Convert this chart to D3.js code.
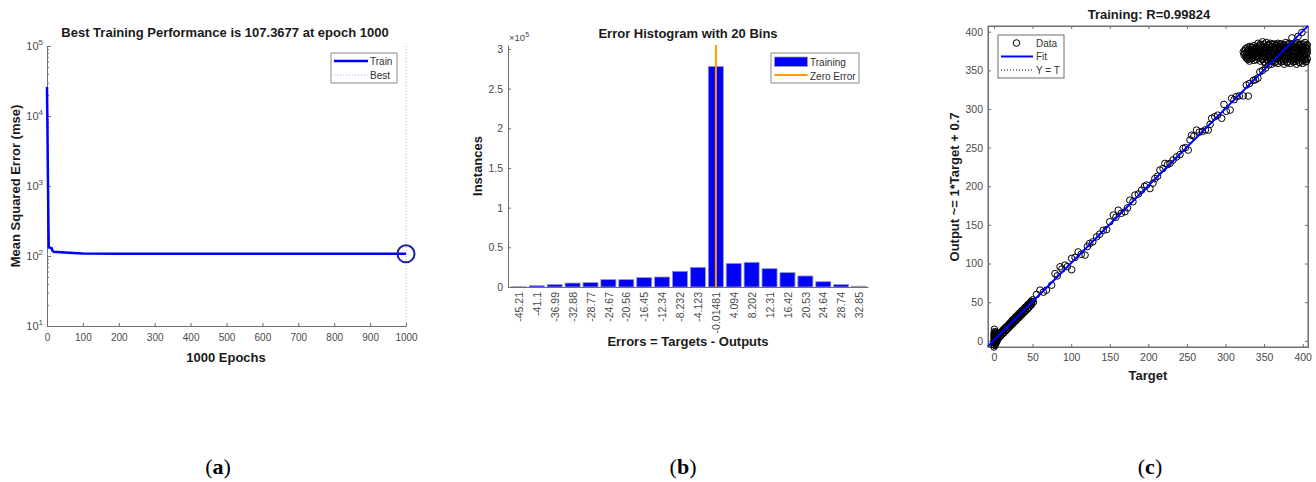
<!DOCTYPE html>
<html>
<head>
<meta charset="utf-8">
<script src="https://cdn.jsdelivr.net/npm/d3@7"></script>
<style>
  body { margin: 0; background: #fff; }
  svg { display: block; font-family: "Liberation Sans", Arial, sans-serif; }
</style>
</head>
<body>
<div id="fig"></div>
<script>
// ---- (a) training performance ----
var perfEpochs = [0, 1, 2, 3, 4, 5, 9, 13, 15, 19, 30, 50, 100, 200, 400, 700, 1000];
var perfMse = [26000, 9000, 2600, 800, 260, 133, 131, 129, 119, 115, 114, 112, 108.4, 107.8, 107.6, 107.45, 107.3677];
var bestEpoch = 1000;
var bestMse = 107.3677;
var perfXTicks = [0, 100, 200, 300, 400, 500, 600, 700, 800, 900, 1000];
var perfYTicks = [10, 100, 1000, 10000, 100000];
var perfYExp = ["1", "2", "3", "4", "5"];

// ---- (b) error histogram ----
var binCenters = [-45.21, -41.1, -36.99, -32.88, -28.77, -24.67, -20.56, -16.45, -12.34, -8.232,
                  -4.123, -0.01481, 4.094, 8.202, 12.31, 16.42, 20.53, 24.64, 28.74, 32.85];
var binLabels = ["-45.21", "-41.1", "-36.99", "-32.88", "-28.77", "-24.67", "-20.56", "-16.45", "-12.34", "-8.232",
                 "-4.123", "-0.01481", "4.094", "8.202", "12.31", "16.42", "20.53", "24.64", "28.74", "32.85"];
var binCounts = [300, 1700, 3000, 5000, 5500, 9300, 9300, 11800, 12600, 19800,
                 24800, 278000, 29800, 31100, 23100, 18100, 13900, 6700, 3000, 1000];
var histYTicks = [0, 50000, 100000, 150000, 200000, 250000, 300000];

// ---- (c) regression ----
var regTicks = [0, 50, 100, 150, 200, 250, 300, 350, 400];
var fitSlope = 1, fitOffset = 0.7;
var regNearZero = [[0,-8],[0,-5],[0,-2],[0,1],[0,4],[0,7],[0,10],[0.5,15],[1,-6],[1,-3],[1,0],[1,3],[1,6],
  [1,9],[1,12],[2,-4],[2,-1],[2,2],[2,5],[2,8],[2,11],[3,-2],[3,1],[3,4],[3,7],[3,10],[4,0],[4,3],
  [4,6],[4,9],[5,2],[5,5],[5,8],[6,4],[6,7],[6,10]];
var regLowBand = [[6,9],[7,5],[8,10],[9,7],[10,12],[11,9],[12,14],[13,11],[14,16],[15,13],[16,18],[17,15],
  [18,19],[19,17],[20,22],[21,19],[22,24],[23,21],[24,27],[25,23],[26,28],[27,25],[28,31],[29,27],
  [30,32],[31,29],[32,35],[33,31],[34,36],[35,33],[36,39],[37,35],[38,40],[39,37],[40,43],[41,39],
  [42,44],[43,41],[44,47],[45,43],[46,48],[47,46],[48,51],[49,48],[50,53],[51,50],
  [5,6],[7,9],[9,11],[11,13],[13,15],[15,17],[17,19],[19,21],[21,23],[23,25],[25,27],[27,29],[29,31],
  [31,33],[33,35],[35,37],[37,39],[39,41],[41,43],[43,45],[45,47],[47,49],[49,51],[8,6],[12,10],
  [16,14],[20,18],[24,22],[28,26],[32,30],[36,34],[40,38],[44,42],[48,46]];
var regAlong = [[55,60],[59.6,65.6],[64,63],[68,65.6],[74.7,72],[79,87],[82,84],[85.5,95.8],[88,93],
  [92,98],[95,96],[100.6,106.6],[100.6,92],[105,108],[109,115],[113,112],[118,111],[121,122],[124,126],
  [128,128],[133,134.6],[137,138],[141.6,143],[146,144],[150,154],[154.6,162.7],[158,160],[161,169],
  [165,165],[169.7,167],[173,172],[176,182],[180,180],[182.6,188.6],[187,190],[191.3,195],[195,200],
  [197.8,201.5],[202,197],[206,204],[208.5,210],[212,213],[215,221],[219,223],[221.5,229.6],[225,228],
  [228,229.6],[232,234],[236.6,238],[241,241],[245,249],[248,250],[251.7,246.8],[254,260],[256,266],
  [259,265],[262.5,272.7],[266,270],[270,271],[274,273],[277.6,272.7],[280,280],[282,288],[286,290],
  [290,292],[295,288],[298,306],[301,297],[306,298.6],[308,313.7],[311,312],[314,316],[318,317],
  [323,317],[327,331],[329.5,316.7],[331,333],[336,337],[339,338],[342,340],[344.5,348],[348,350],
  [352,353],[356,357],[386,392],[394,394],[399,399]];
var regCloud = [[342,385],[348,387],[353,386],[358,385],[363,384],[368,385],[373,384],[378,386],[383,385],
  [388,384],[393,385],[398,384],[403,386],
  [332,381],[337,382],[340,380],[345,382],[350,381],[355,382],[360,381],[365,382],[370,381],[375,382],
  [380,381],[385,382],[390,381],[395,382],[400,381],[405,382],
  [326,378],[330,377],[334,379],[338,378],[343,377],[347,379],[352,378],[357,377],[362,379],[366,378],
  [371,377],[376,379],[381,378],[386,377],[391,379],[396,378],[401,377],[405,379],
  [323,374],[327,373],[331,375],[335,374],[340,373],[344,375],[349,374],[354,373],[359,375],[364,374],
  [369,373],[374,375],[379,374],[384,373],[389,375],[394,374],[399,373],[404,375],
  [324,370],[328,369],[332,371],[336,370],[341,369],[346,371],[351,370],[356,369],[361,371],[366,370],
  [371,369],[376,371],[381,370],[386,369],[391,371],[396,370],[401,369],[405,371],
  [327,366],[331,365],[336,367],[342,366],[347,365],[352,367],[357,366],[362,365],[367,367],[372,366],
  [377,365],[382,367],[387,366],[392,365],[397,367],[402,366],[406,365],
  [331,362],[337,363],[345,362],[350,361],[355,363],[360,362],[365,361],[370,363],[375,362],[380,361],
  [385,363],[390,362],[395,361],[400,363],[405,362],
  [352,359],[360,358],[368,359],[376,358],[384,359],[392,358],[400,359],
  [345,384],[350,384],[356,383],[361,384],[366,383],[371,384],[376,383],[381,384],[386,383],[391,384],
  [396,383],[401,384],[406,383],
  [329,380],[334,380],[339,379],[343,380],[348,380],[353,379],[358,380],[363,380],[368,379],[373,380],
  [378,380],[383,379],[388,380],[393,380],[398,379],[403,380],
  [325,376],[329,375],[333,376],[337,376],[342,375],[346,376],[351,376],[356,375],[361,376],[365,376],
  [370,375],[375,376],[380,376],[385,375],[390,376],[395,376],[400,375],[406,377],
  [325,372],[329,371],[333,372],[338,372],[343,371],[347,372],[352,372],[357,371],[362,372],[367,372],
  [372,371],[377,372],[382,372],[387,371],[392,372],[397,372],[402,371],[406,373],
  [326,368],[330,367],[334,368],[339,368],[344,367],[349,368],[354,368],[359,367],[364,368],[369,368],
  [374,367],[379,368],[384,368],[389,367],[394,368],[399,368],[404,367],
  [329,364],[334,365],[340,364],[348,364],[353,364],[358,364],[363,363],[368,365],[373,364],[378,364],
  [383,365],[388,364],[393,363],[398,365],[403,364],
  [356,361],[364,360],[372,361],[380,360],[388,361],[396,360],[404,361]];

var axisColor = "#6e6e6e";
var tickColor = "#4a4a4a";
var labelColor = "#1a1a1a";

var svg = d3.select("#fig").append("svg").attr("width", 1316).attr("height", 482);

function styleAxis(g, size) {
  g.attr("font-family", "Liberation Sans, Arial, sans-serif").attr("font-size", size);
  g.select(".domain").attr("stroke", axisColor);
  g.selectAll(".tick line").attr("stroke", axisColor);
  g.selectAll(".tick text").attr("fill", tickColor);
  return g;
}

function boldText(x, y, str, rotate) {
  var t = svg.append("text")
    .attr("text-anchor", "middle")
    .attr("font-weight", "bold")
    .attr("font-size", 13)
    .attr("fill", labelColor)
    .text(str);
  if (rotate) t.attr("transform", "translate(" + x + "," + y + ") rotate(-90)");
  else t.attr("x", x).attr("y", y);
  return t;
}

// ================= (a) =================
var xA = d3.scaleLinear().domain([0, 1000]).range([47, 406]);
var yA = d3.scaleLog().domain([10, 100000]).range([326, 46]);

styleAxis(svg.append("g").attr("transform", "translate(0," + yA.range()[0] + ")")
  .call(d3.axisBottom(xA).tickValues(perfXTicks).tickSize(-3).tickSizeOuter(0).tickPadding(8)
    .tickFormat(d3.format("d"))), 10);

var minorA = yA.ticks().filter(function(v) { return perfYTicks.indexOf(v) < 0; });
styleAxis(svg.append("g").attr("transform", "translate(" + xA.range()[0] + ",0)")
  .call(d3.axisLeft(yA).tickValues(minorA).tickSize(-2).tickSizeOuter(0).tickFormat("")), 10);
styleAxis(svg.append("g").attr("transform", "translate(" + xA.range()[0] + ",0)")
  .call(d3.axisLeft(yA).tickValues(perfYTicks).tickSize(-4).tickSizeOuter(0).tickFormat("")), 10);

perfYTicks.forEach(function(v, i) {
  var t = svg.append("text")
    .attr("x", xA.range()[0] - 4).attr("y", yA(v) + 4)
    .attr("text-anchor", "end").attr("font-size", 11).attr("fill", tickColor);
  t.append("tspan").text("10");
  t.append("tspan").attr("dy", -5).attr("font-size", 8).text(perfYExp[i]);
});

// best markers (dotted)
svg.append("line")
  .attr("x1", xA(bestEpoch)).attr("x2", xA(bestEpoch))
  .attr("y1", yA.range()[1]).attr("y2", yA.range()[0])
  .attr("stroke", "#a9a9f0").attr("stroke-width", 1).attr("stroke-dasharray", "1,2");
svg.append("line")
  .attr("x1", xA(0)).attr("x2", xA(bestEpoch))
  .attr("y1", yA(bestMse)).attr("y2", yA(bestMse))
  .attr("stroke", "#a9a9f0").attr("stroke-width", 1).attr("stroke-dasharray", "1,2");

var perfData = perfEpochs.map(function(e, i) { return [e, perfMse[i]]; });
svg.append("path")
  .datum(perfData)
  .attr("fill", "none").attr("stroke", "#0000ff").attr("stroke-width", 2.5)
  .attr("d", d3.line().x(function(d) { return xA(d[0]); }).y(function(d) { return yA(d[1]); }));

svg.append("circle")
  .attr("cx", xA(bestEpoch)).attr("cy", yA(bestMse)).attr("r", 8.5)
  .attr("fill", "none").attr("stroke", "#1c1ca6").attr("stroke-width", 2);

// legend (a)
var legA = svg.append("g");
legA.append("rect").attr("x", 331).attr("y", 53).attr("width", 66).attr("height", 30)
  .attr("fill", "#fff").attr("stroke", "#8c8c8c");
legA.append("line").attr("x1", 334).attr("x2", 368).attr("y1", 61).attr("y2", 61)
  .attr("stroke", "#0000ff").attr("stroke-width", 2.5);
legA.append("line").attr("x1", 334).attr("x2", 368).attr("y1", 75).attr("y2", 75)
  .attr("stroke", "#a9a9f0").attr("stroke-dasharray", "1,2");
legA.append("text").attr("x", 370).attr("y", 65).attr("font-size", 10).attr("fill", "#333").text("Train");
legA.append("text").attr("x", 370).attr("y", 79).attr("font-size", 10).attr("fill", "#333").text("Best");

boldText(225, 37, "Best Training Performance is 107.3677 at epoch 1000");
boldText(226, 362, "1000 Epochs");
boldText(20, 186, "Mean Squared Error  (mse)", true);

// ================= (b) =================
var xB = d3.scaleLinear().domain([-47.7, 34.9]).range([508, 868]);
var yB = d3.scaleLinear().domain([0, 305000]).range([287, 45]);
var stepB = xB(binCenters[1]) - xB(binCenters[0]);
var barW = stepB * 0.84;

svg.append("g").selectAll("rect")
  .data(binCounts)
  .join("rect")
  .attr("x", function(d, i) { return xB(binCenters[i]) - barW / 2; })
  .attr("y", function(d) { return yB(d); })
  .attr("width", barW)
  .attr("height", function(d) { return yB(0) - yB(d); })
  .attr("fill", "#0000ff")
  .attr("stroke", "#9a9ab8").attr("stroke-width", 0.8);

var gxB = styleAxis(svg.append("g").attr("transform", "translate(0," + yB(0) + ")")
  .call(d3.axisBottom(xB).tickValues(binCenters).tickSize(0).tickSizeOuter(0)
    .tickFormat(function(d, i) { return binLabels[i]; })), 10.5);
gxB.selectAll(".tick text")
  .attr("transform", "rotate(-90)")
  .attr("text-anchor", "end")
  .attr("x", -5).attr("y", 0).attr("dy", "0.35em");

styleAxis(svg.append("g").attr("transform", "translate(" + xB.range()[0] + ",0)")
  .call(d3.axisLeft(yB).tickValues(histYTicks).tickSize(-3).tickSizeOuter(0).tickPadding(5)
    .tickFormat(function(d) { return d / 100000; })), 10.5);

var expB = svg.append("text").attr("x", 509).attr("y", 41).attr("font-size", 9.5).attr("fill", tickColor);
expB.append("tspan").text("\u00d710");
expB.append("tspan").attr("dy", -4).attr("font-size", 7).text("5");

svg.append("line")
  .attr("x1", xB(0)).attr("x2", xB(0)).attr("y1", yB.range()[1]).attr("y2", yB(0))
  .attr("stroke", "#ff9900").attr("stroke-width", 2);

var legB = svg.append("g");
legB.append("rect").attr("x", 771).attr("y", 53).attr("width", 88).attr("height", 30)
  .attr("fill", "#fff").attr("stroke", "#8c8c8c");
legB.append("rect").attr("x", 774.5).attr("y", 57).attr("width", 33).attr("height", 9.5)
  .attr("fill", "#0000ff").attr("stroke", "#9a9ab8").attr("stroke-width", 0.8);
legB.append("line").attr("x1", 774.5).attr("x2", 807.5).attr("y1", 75).attr("y2", 75)
  .attr("stroke", "#ff9900").attr("stroke-width", 2);
legB.append("text").attr("x", 810).attr("y", 66).attr("font-size", 10).attr("fill", "#333").text("Training");
legB.append("text").attr("x", 810).attr("y", 80).attr("font-size", 10).attr("fill", "#333").text("Zero Error");

boldText(688, 38, "Error Histogram with 20 Bins");
boldText(688, 346, "Errors = Targets - Outputs");
boldText(482, 166, "Instances", true);

// ================= (c) =================
var xC = d3.scaleLinear().domain([-7.8, 406.9]).range([988, 1308]);
var yC = d3.scaleLinear().domain([-8, 407.4]).range([347, 26]);

svg.append("rect")
  .attr("x", xC.range()[0]).attr("y", yC.range()[1])
  .attr("width", xC.range()[1] - xC.range()[0]).attr("height", yC.range()[0] - yC.range()[1])
  .attr("fill", "none").attr("stroke", axisColor);

styleAxis(svg.append("g").attr("transform", "translate(0," + yC.range()[0] + ")")
  .call(d3.axisBottom(xC).tickValues(regTicks).tickSize(-3).tickSizeOuter(0).tickPadding(7)), 10.5);
styleAxis(svg.append("g").attr("transform", "translate(0," + yC.range()[1] + ")")
  .call(d3.axisTop(xC).tickValues(regTicks).tickSize(-3).tickSizeOuter(0).tickFormat("")), 10.5);
styleAxis(svg.append("g").attr("transform", "translate(" + xC.range()[0] + ",0)")
  .call(d3.axisLeft(yC).tickValues(regTicks).tickSize(-3).tickSizeOuter(0).tickPadding(5)), 10.5);
styleAxis(svg.append("g").attr("transform", "translate(" + xC.range()[1] + ",0)")
  .call(d3.axisRight(yC).tickValues(regTicks).tickSize(-3).tickSizeOuter(0).tickFormat("")), 10.5);

var xd = xC.domain();
svg.append("line")
  .attr("x1", xC(xd[0])).attr("y1", yC(xd[0])).attr("x2", xC(xd[1])).attr("y2", yC(xd[1]))
  .attr("stroke", "#000").attr("stroke-dasharray", "1,2");

var regPoints = regNearZero.concat(regLowBand, regAlong, regCloud);
svg.append("g").selectAll("circle")
  .data(regPoints)
  .join("circle")
  .attr("cx", function(d) { return xC(d[0]); })
  .attr("cy", function(d) { return yC(d[1]); })
  .attr("r", 3.3)
  .attr("fill", "none").attr("stroke", "#000").attr("stroke-width", 1);

svg.append("line")
  .attr("x1", xC(xd[0])).attr("y1", yC(fitSlope * xd[0] + fitOffset))
  .attr("x2", xC(xd[1])).attr("y2", yC(fitSlope * xd[1] + fitOffset))
  .attr("stroke", "#0000ff").attr("stroke-width", 2);

var legC = svg.append("g");
legC.append("rect").attr("x", 998).attr("y", 35).attr("width", 66).attr("height", 43)
  .attr("fill", "#fff").attr("stroke", "#6e6e6e");
legC.append("circle").attr("cx", 1016.5).attr("cy", 43).attr("r", 3.3)
  .attr("fill", "none").attr("stroke", "#000");
legC.append("line").attr("x1", 1001).attr("x2", 1033).attr("y1", 56.5).attr("y2", 56.5)
  .attr("stroke", "#0000ff").attr("stroke-width", 2);
legC.append("line").attr("x1", 1001).attr("x2", 1033).attr("y1", 70).attr("y2", 70)
  .attr("stroke", "#000").attr("stroke-dasharray", "1,2");
legC.append("text").attr("x", 1036).attr("y", 47).attr("font-size", 10).attr("fill", "#333").text("Data");
legC.append("text").attr("x", 1036).attr("y", 60).attr("font-size", 10).attr("fill", "#333").text("Fit");
legC.append("text").attr("x", 1036).attr("y", 74).attr("font-size", 10).attr("fill", "#333").text("Y = T");

boldText(1149, 19, "Training: R=0.99824");
boldText(1148, 380, "Target");
boldText(959, 187, "Output ~= 1*Target + 0.7", true);

// ================= captions =================
[["a", 218], ["b", 683], ["c", 1150]].forEach(function(c) {
  var t = svg.append("text").attr("x", c[1]).attr("y", 474).attr("text-anchor", "middle")
    .style("font-family", "'Liberation Serif', 'Times New Roman', serif").attr("font-size", 22).attr("fill", "#000");
  t.append("tspan").text("(");
  t.append("tspan").attr("font-weight", "bold").text(c[0]);
  t.append("tspan").text(")");
});
</script>
</body>
</html>
